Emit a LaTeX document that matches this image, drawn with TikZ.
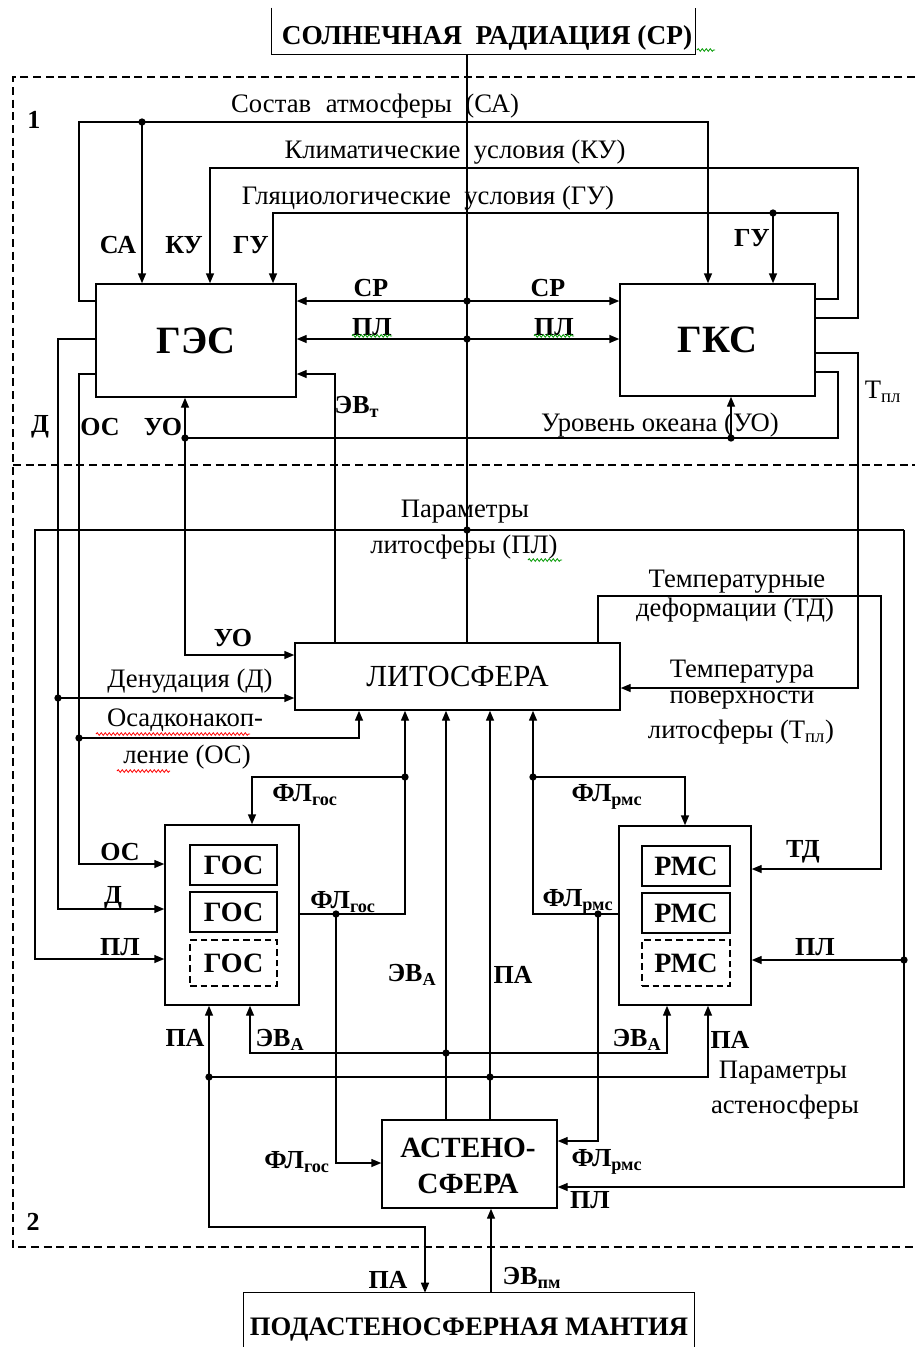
\documentclass[tikz,border=0pt]{standalone}
\usepackage{fontspec}
\setmainfont{Liberation Serif}[BoldFont={Liberation Serif Bold}]
\usetikzlibrary{arrows.meta,decorations.pathmorphing}
\begin{document}
\begin{tikzpicture}[x=0.75pt,y=-0.75pt,
  ln/.style={line width=1.1pt},
  arr/.style={line width=1.1pt,-{Triangle[length=7.5pt,width=6pt]}},
  dot/.style={circle,fill=black,inner sep=0pt,minimum size=5.5pt},
  box/.style={draw,line width=1.1pt,rectangle,inner sep=0pt},
  ibox/.style={draw,line width=1.1pt,rectangle,inner sep=0pt,font=\bfseries\fontsize{21}{24}\selectfont},
  dbox/.style={ibox,dash pattern=on 5pt off 3pt},
  lab/.style={inner sep=0pt,font=\bfseries\fontsize{19.5}{22}\selectfont},
  txt/.style={inner sep=0pt,font=\fontsize{20}{22}\selectfont},
  dsh/.style={line width=1pt,dash pattern=on 6pt off 3.5pt},
  wavy/.style={line width=0.6pt,decorate,decoration={snake,amplitude=1pt,segment length=3pt}}]
\useasboundingbox (0,0) rectangle (915,1347);
\fill[white] (0,0) rectangle (915,1347);

% ---- boxes
\node[inner sep=0pt,minimum width=317.25pt,minimum height=34.5pt] (sun) at (483.5,31) {};
\draw[ln] (sun.north west) -- (sun.south west) -- (sun.south east) -- (sun.north east);
\node[lab,font=\bfseries\fontsize{20.5}{22}\selectfont] (suntxt) at (487,38) {СОЛНЕЧНАЯ\hspace{5pt} РАДИАЦИЯ (СР)};

\node[box,minimum width=150pt,minimum height=84.75pt,font=\bfseries\fontsize{29}{30}\selectfont] (ges) at (196,340.5) {ГЭС};
\node[box,minimum width=146.25pt,minimum height=84pt,font=\bfseries\fontsize{29}{30}\selectfont] (gks) at (717.5,340) {ГКС};
\node[box,minimum width=243.75pt,minimum height=50.25pt,font=\fontsize{23}{25}\selectfont] (lito) at (457.5,676.5) {ЛИТОСФЕРА};

\node[box,minimum width=100.5pt,minimum height=135pt] (gos) at (232,915) {};
\node[ibox,minimum width=65.25pt,minimum height=30pt] (gos1) at (233.5,865) {ГОС};
\node[ibox,minimum width=65.25pt,minimum height=30pt] (gos2) at (233.5,912) {ГОС};
\node[dbox,minimum width=65.25pt,minimum height=34.5pt] (gos3) at (233.5,963) {ГОС};

\node[box,minimum width=99pt,minimum height=134.25pt] (rms) at (685,915.5) {};
\node[ibox,minimum width=66pt,minimum height=30pt] (rms1) at (686,866) {РМС};
\node[ibox,minimum width=66pt,minimum height=30pt] (rms2) at (686,913) {РМС};
\node[dbox,minimum width=66pt,minimum height=34.5pt] (rms3) at (686,963) {РМС};

\node[box,minimum width=131.25pt,minimum height=66pt] (asth) at (469.5,1164) {};
\node[lab,font=\bfseries\fontsize{22}{24}\selectfont] (asth1) at (468,1148) {АСТЕНО-};
\node[lab,font=\bfseries\fontsize{22}{24}\selectfont] (asth2) at (468,1184) {СФЕРА};

\node[inner sep=0pt,minimum width=337.5pt,minimum height=42.75pt] (mant) at (469,1321.5) {};
\draw[ln] (mant.south west) -- (mant.north west) -- (mant.north east) -- (mant.south east);
\node[lab,font=\bfseries\fontsize{20}{22}\selectfont] (manttxt) at (469,1329) {ПОДАСТЕНОСФЕРНАЯ МАНТИЯ};

% ---- dashed frames
\draw[dsh] (915,77) -- (13,77) -- (13,1247) -- (915,1247);
\draw[dsh] (13,465) -- (915,465);
\node[lab] (n1) at (34,120) {1};
\node[lab] (n2) at (33,1222) {2};

% ---- coordinates
\coordinate (jSR) at (467,301);
\coordinate (jPL1) at (467,339);
\coordinate (jPL2) at (467,530);
\coordinate (evt) at (335,374);
\coordinate (caS) at (79,301); \coordinate (caL) at (79,122); \coordinate (caR) at (708,122); \coordinate (caD) at (142,122);
\coordinate (kuS) at (858,318); \coordinate (kuR) at (858,168); \coordinate (kuL) at (210,168);
\coordinate (guS) at (838,299); \coordinate (guR) at (838,213); \coordinate (guL) at (273,213); \coordinate (guD) at (773,213);
\coordinate (uoS) at (838,372); \coordinate (uoB) at (838,438); \coordinate (uoL) at (185,438); \coordinate (uoG) at (731,438); \coordinate (uoLi) at (185,655);
\coordinate (tpS) at (858,353); \coordinate (tpB) at (858,688);
\coordinate (dS) at (58,339); \coordinate (dB) at (58,909); \coordinate (dJ) at (58,698);
\coordinate (oS) at (79,374); \coordinate (oB) at (79,864); \coordinate (oJ) at (79,738); \coordinate (oK) at (359,738);
\coordinate (plL) at (35,530); \coordinate (plR) at (904,530); \coordinate (plLB) at (35,959); \coordinate (plRJ) at (904,960); \coordinate (plRB) at (904,1187);
\coordinate (tdS) at (598,596); \coordinate (tdR) at (881,596); \coordinate (tdB) at (881,869);
\coordinate (fgR) at (405,914); \coordinate (fgJ) at (405,777); \coordinate (fgL) at (252,777); \coordinate (fgA) at (336,914); \coordinate (fgAB) at (336,1163);
\coordinate (frL) at (533,914); \coordinate (frJ) at (533,777); \coordinate (frR) at (685,777); \coordinate (frA) at (598,914); \coordinate (frAB) at (598,1141);
\coordinate (evJ) at (446,1053); \coordinate (evL) at (250,1053); \coordinate (evR) at (667,1053);
\coordinate (paJ) at (490,1077); \coordinate (paL) at (209,1077); \coordinate (paR) at (708,1077); \coordinate (paB) at (209,1227); \coordinate (paM) at (425,1227);
\coordinate (epm) at (491,1250);

% ---- connectors
\draw[ln] (sun.south -| jSR) -- (lito.north -| jSR);
\draw[arr] (jSR) -- (ges.east |- jSR);
\draw[arr] (jSR) -- (gks.west |- jSR);
\draw[arr] (jPL1) -- (ges.east |- jPL1);
\draw[arr] (jPL1) -- (gks.west |- jPL1);
\draw[arr] (lito.north -| evt) -- (evt) -- (ges.east |- evt);

\draw[arr] (ges.west |- caS) -- (caS) -- (caL) -- (caR) -- (gks.north -| caR);
\draw[arr] (caD) -- (ges.north -| caD);
\draw[arr] (gks.east |- kuS) -- (kuS) -- (kuR) -- (kuL) -- (ges.north -| kuL);
\draw[arr] (gks.east |- guS) -- (guS) -- (guR) -- (guL) -- (ges.north -| guL);
\draw[arr] (guD) -- (gks.north -| guD);

\draw[ln] (gks.east |- uoS) -- (uoS) -- (uoB) -- (uoL);
\draw[arr] (uoG) -- (gks.south -| uoG);
\draw[arr] (uoL) -- (ges.south -| uoL);
\draw[arr] (uoL) -- (uoLi) -- (lito.west |- uoLi);

\draw[arr] (gks.east |- tpS) -- (tpS) -- (tpB) -- (lito.east |- tpB);

\draw[arr] (ges.west |- dS) -- (dS) -- (dB) -- (gos.west |- dB);
\draw[arr] (dJ) -- (lito.west |- dJ);
\draw[arr] (ges.west |- oS) -- (oS) -- (oB) -- (gos.west |- oB);
\draw[arr] (oJ) -- (oK) -- (lito.south -| oK);

\draw[arr] (plR) -- (plL) -- (plLB) -- (gos.west |- plLB);
\draw[arr] (plR) -- (plRB) -- (asth.east |- plRB);
\draw[arr] (plRJ) -- (rms.east |- plRJ);

\draw[arr] (lito.north -| tdS) -- (tdS) -- (tdR) -- (tdB) -- (rms.east |- tdB);

\draw[arr] (gos.east |- fgR) -- (fgR) -- (lito.south -| fgR);
\draw[arr] (fgJ) -- (fgL) -- (gos.north -| fgL);
\draw[arr] (fgA) -- (fgAB) -- (asth.west |- fgAB);
\draw[arr] (rms.west |- frL) -- (frL) -- (lito.south -| frL);
\draw[arr] (frJ) -- (frR) -- (rms.north -| frR);
\draw[arr] (frA) -- (frAB) -- (asth.east |- frAB);

\draw[arr] (asth.north -| evJ) -- (lito.south -| evJ);
\draw[arr] (evJ) -- (evL) -- (gos.south -| evL);
\draw[arr] (evJ) -- (evR) -- (rms.south -| evR);
\draw[arr] (asth.north -| paJ) -- (lito.south -| paJ);
\draw[arr] (paJ) -- (paR) -- (rms.south -| paR);
\draw[arr] (paJ) -- (paL) -- (gos.south -| paL);
\draw[arr] (paL) -- (paB) -- (paM) -- (mant.north -| paM);
\draw[arr] (mant.north -| epm) -- (asth.south -| epm);

% ---- dots
\foreach \p in {jSR,jPL1,jPL2,caD,guD,uoG,uoL,dJ,oJ,plRJ,fgJ,fgA,frJ,frA,evJ,paJ,paL}
  \node[dot] at (\p) {};

% ---- texts
\node[txt] (tCA) at (375,106) {Состав\hspace{6pt} атмосферы\hspace{5pt} (СА)};
\node[txt] (tKU) at (455,152) {Климатические\hspace{5pt} условия (КУ)};
\node[txt] (tGU) at (428,198) {Гляциологические\hspace{5pt} условия (ГУ)};
\node[lab] (lCA) at (118,245) {СА};
\node[lab] (lKU) at (184,245) {КУ};
\node[lab] (lGU) at (251,245) {ГУ};
\node[lab] (lGU2) at (752,238) {ГУ};
\node[lab] (lSR1) at (371,288) {СР};
\node[lab] (lSR2) at (548,288) {СР};
\node[lab] (lPL1) at (372,327) {ПЛ};
\node[lab] (lPL2) at (554,327) {ПЛ};
\node[lab] (lEVt) at (357,407) {ЭВ\textsubscript{т}};
\node[txt] (lTpl) at (883,392) {Т\textsubscript{пл}};
\node[lab] (lD) at (40,427) {Д};
\node[lab] (lOS) at (100,427) {ОС};
\node[lab] (lUO) at (163,427) {УО};
\node[txt] (tUO) at (660,425) {Уровень океана (УО)};

\node[txt] (tPL1) at (465,512) {Параметры};
\node[txt] (tPL2) at (464,547) {литосферы (ПЛ)};
\node[txt] (tTD1) at (737,582) {Температурные};
\node[txt] (tTD2) at (735,610) {деформации (ТД)};
\node[lab] (lUO2) at (233,638) {УО};
\node[txt] (tD) at (190,681) {Денудация (Д)};
\node[txt] (tOS1) at (185,720) {Осадконакоп-};
\node[txt] (tOS2) at (187,757) {ление (ОС)};
\node[txt] (tT1) at (742,672) {Температура};
\node[txt] (tT2) at (742,700) {поверхности};
\node[txt] (tT3) at (741,732) {литосферы (Т\textsubscript{пл})};

\node[lab] (lFG1) at (305,795) {ФЛ\textsubscript{гос}};
\node[lab] (lFG2) at (343,902) {ФЛ\textsubscript{гос}};
\node[lab] (lFR1) at (607,797) {ФЛ\textsubscript{рмс}};
\node[lab] (lFR2) at (578,902) {ФЛ\textsubscript{рмс}};
\node[lab] (lOSg) at (120,852) {ОС};
\node[lab] (lDg) at (113,898) {Д};
\node[lab] (lPLg) at (120,947) {ПЛ};
\node[lab] (lTD) at (803,852) {ТД};
\node[lab] (lPLr) at (815,947) {ПЛ};
\node[lab] (lEVm) at (412,975) {ЭВ\textsubscript{А}};
\node[lab] (lPAm) at (513,975) {ПА};
\node[lab] (lPAg) at (185,1038) {ПА};
\node[lab] (lEVg) at (280,1040) {ЭВ\textsubscript{А}};
\node[lab] (lEVr) at (637,1040) {ЭВ\textsubscript{А}};
\node[lab] (lPAr) at (730,1040) {ПА};
\node[txt] (tPA1) at (783,1073) {Параметры};
\node[txt] (tPA2) at (785,1107) {астеносферы};
\node[lab] (lFGa) at (297,1162) {ФЛ\textsubscript{гос}};
\node[lab] (lFRa) at (607,1162) {ФЛ\textsubscript{рмс}};
\node[lab] (lPLa) at (590,1200) {ПЛ};
\node[lab] (lPAb) at (388,1280) {ПА};
\node[lab] (lEVpm) at (532,1278) {ЭВ\textsubscript{пм}};

% ---- spell-check squiggles
\draw[wavy,green!60!black] (lPL1.south west) -- (lPL1.south east);
\draw[wavy,green!60!black] (lPL2.south west) -- (lPL2.south east);
\draw[wavy,green!60!black] (697,50) -- (715,50);
\draw[wavy,green!60!black] (528,560) -- (562,560);
\draw[wavy,red] (96,734) -- (250,734);
\draw[wavy,red] (117,771) -- (170,771);
\end{tikzpicture}
\end{document}
